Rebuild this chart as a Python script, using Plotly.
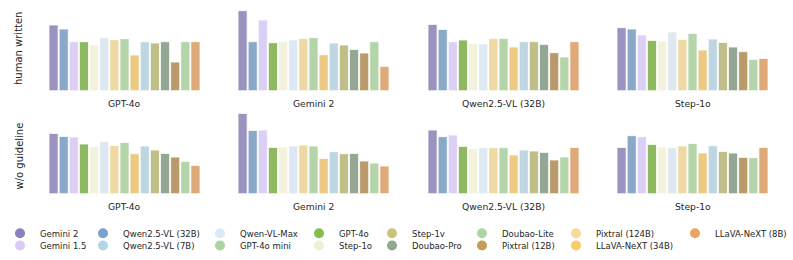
import plotly.graph_objects as go

W, H = 793, 260

# ---------------- data ----------------
models = ["Gemini 2", "Qwen2.5-VL (32B)", "Gemini 1.5", "GPT-4o", "Step-1o",
          "Qwen-VL-Max", "Pixtral (124B)", "GPT-4o mini", "LLaVA-NeXT (34B)",
          "Qwen2.5-VL (7B)", "Step-1v", "Doubao-Pro", "Pixtral (12B)",
          "Doubao-Lite", "LLaVA-NeXT (8B)"]

judges = ["GPT-4o", "Gemini 2", "Qwen2.5-VL (32B)", "Step-1o"]
rows = ["human written", "w/o guideline"]

human_gpt4o = [65.7, 61.7, 49.0, 49.0, 45.7, 53.3, 51.0, 52.0, 35.7, 49.0, 47.7, 49.0, 28.7, 49.0, 49.0]
human_gemini2 = [80.0, 49.0, 70.7, 48.0, 49.0, 50.7, 52.3, 53.0, 36.0, 47.7, 45.7, 41.3, 37.7, 49.0, 24.3]
human_qwen32b = [66.3, 61.3, 49.0, 50.7, 47.3, 46.7, 52.3, 52.3, 43.7, 49.0, 49.0, 46.3, 38.0, 33.7, 49.0]
human_step1o = [63.0, 61.7, 55.7, 50.3, 49.7, 58.7, 51.3, 57.3, 40.7, 51.7, 48.3, 43.7, 39.0, 31.3, 32.3]

woguide_gpt4o = [60.3, 57.3, 56.7, 49.7, 47.0, 52.3, 48.3, 51.3, 40.0, 47.7, 43.7, 40.3, 36.7, 32.3, 28.3]
woguide_gemini2 = [80.3, 63.3, 63.7, 46.3, 46.7, 47.7, 48.7, 47.7, 35.3, 42.0, 40.0, 40.3, 32.7, 30.7, 27.7]
woguide_qwen32b = [63.7, 57.0, 58.7, 47.3, 45.0, 46.0, 46.0, 46.0, 38.7, 43.7, 42.7, 41.3, 33.7, 36.7, 46.3]
woguide_step1o = [46.3, 58.0, 57.0, 49.3, 46.7, 46.0, 47.7, 50.3, 40.7, 48.0, 42.3, 40.7, 36.3, 36.0, 46.3]

values = [
    [human_gpt4o, human_gemini2, human_qwen32b, human_step1o],
    [woguide_gpt4o, woguide_gemini2, woguide_qwen32b, woguide_step1o],
]

bar_colors = {
    "Gemini 2": "#9a92bf", "Qwen2.5-VL (32B)": "#8aa8c8", "Gemini 1.5": "#dccff5",
    "GPT-4o": "#8fb960", "Step-1o": "#f3f2dd", "Qwen-VL-Max": "#dde8f0",
    "Pixtral (124B)": "#eed9a4", "GPT-4o mini": "#b4d4aa", "LLaVA-NeXT (34B)": "#ecca84",
    "Qwen2.5-VL (7B)": "#bdd6e2", "Step-1v": "#c0be89", "Doubao-Pro": "#94a795",
    "Pixtral (12B)": "#b99a6b", "Doubao-Lite": "#b4d4aa", "LLaVA-NeXT (8B)": "#e0aa78",
}
legend_colors = {
    "Gemini 2": "#8b80c0", "Gemini 1.5": "#dacbf7", "Qwen2.5-VL (32B)": "#7ca1d0",
    "Qwen2.5-VL (7B)": "#b2d5ea", "Qwen-VL-Max": "#dbe9f5", "GPT-4o mini": "#a9d69c",
    "GPT-4o": "#80c04b", "Step-1o": "#f1f0d6", "Step-1v": "#c9c47b",
    "Doubao-Pro": "#8fa88e", "Doubao-Lite": "#aad8a1", "Pixtral (12B)": "#c49b57",
    "Pixtral (124B)": "#f7d898", "LLaVA-NeXT (34B)": "#f7cc69", "LLaVA-NeXT (8B)": "#f0a263",
}
legend_order = ["Gemini 2", "Gemini 1.5", "Qwen2.5-VL (32B)", "Qwen2.5-VL (7B)",
                "Qwen-VL-Max", "GPT-4o mini", "GPT-4o", "Step-1o", "Step-1v",
                "Doubao-Pro", "Doubao-Lite", "Pixtral (12B)", "Pixtral (124B)",
                "LLaVA-NeXT (34B)", "LLaVA-NeXT (8B)"]

# ---------------- layout constants (pixels) ----------------
FONT = "DejaVu Sans"
TXT = "#262626"
col_left = [49, 238, 428, 617]
col_w = 151
row_base = [90.7, 193.7]
plot_h = 82
y_max = 82
title_y = [103.5, 206.5]
ylab_x = 18.5
ylab_y = [48.5, 156]
leg_col_x = [17, 105, 222, 321, 394, 484, 578, 697]
leg_row_y = [233.3, 245.7]
LEG_SYMBOL_OFFSET = 22

def px_x(p):
    return p / W

def px_y(p):
    return 1 - p / H

fig = go.Figure()
layout = dict(
    width=W, height=H,
    margin=dict(l=0, r=0, t=0, b=0),
    paper_bgcolor="white", plot_bgcolor="white",
    font=dict(family=FONT, color=TXT, size=9),
    bargap=0.1,
    showlegend=True,
    annotations=[],
)

for r in range(2):
    for c in range(4):
        k = r * 4 + c + 1
        xa = "xaxis" if k == 1 else f"xaxis{k}"
        ya = "yaxis" if k == 1 else f"yaxis{k}"
        xr = "x" if k == 1 else f"x{k}"
        yr = "y" if k == 1 else f"y{k}"
        layout[xa] = dict(domain=[px_x(col_left[c]), px_x(col_left[c] + col_w)],
                          anchor=yr, range=[-0.45, len(models) - 0.55],
                          visible=False, type="linear")
        layout[ya] = dict(domain=[px_y(row_base[r]), px_y(row_base[r] - plot_h)],
                          anchor=xr, range=[0, y_max], visible=False)
        fig.add_trace(go.Bar(
            x=list(range(len(models))), y=values[r][c],
            marker=dict(color=[bar_colors[m] for m in models],
                        line=dict(color="white", width=0.8)),
            width=0.9,
            hovertext=models, xaxis=xr, yaxis=yr, showlegend=False,
        ))
        layout["annotations"].append(dict(
            text=judges[c], xref="paper", yref="paper",
            x=px_x(col_left[c] + col_w / 2), y=px_y(title_y[r]),
            xanchor="center", yanchor="middle", showarrow=False,
            font=dict(size=9.2, family=FONT, color=TXT)))
    layout["annotations"].append(dict(
        text=rows[r], xref="paper", yref="paper",
        x=px_x(ylab_x), y=px_y(ylab_y[r]), textangle=-90,
        xanchor="center", yanchor="middle", showarrow=False,
        font=dict(size=10, family=FONT, color=TXT)))

# legend: one legend per entry, laid out column-major in 2 rows
for i, m in enumerate(legend_order):
    col, row = divmod(i, 2)
    lname = "legend" if i == 0 else f"legend{i + 1}"
    fig.add_trace(go.Scatter(
        x=[None], y=[None], mode="markers", name=m,
        marker=dict(color=legend_colors[m], size=10, symbol="circle"),
        legend=lname, showlegend=True,
    ))
    layout[lname] = dict(
        x=max(0.0, px_x(leg_col_x[col] - LEG_SYMBOL_OFFSET)), y=px_y(leg_row_y[row]),
        xanchor="left", yanchor="middle",
        bgcolor="rgba(0,0,0,0)", borderwidth=0,
        font=dict(size=8.5, family=FONT, color=TXT),
        itemwidth=30, orientation="v",
    )

fig.update_layout(**layout)
fig.write_html("out.html",
               config={"displayModeBar": False},
               post_script="document.body.style.margin='0';document.body.style.padding='0';")
